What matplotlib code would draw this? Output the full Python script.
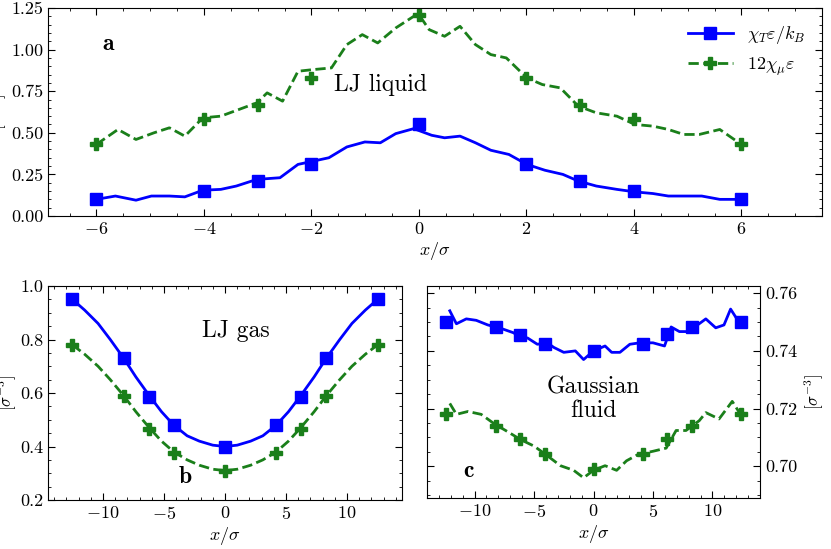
import numpy as np
import matplotlib
matplotlib.use("Agg")
import matplotlib.pyplot as plt
from matplotlib.ticker import AutoMinorLocator, MultipleLocator, FormatStrFormatter

plt.rcParams['font.family'] = ['cmr10', 'DejaVu Serif']
plt.rcParams['mathtext.fontset'] = 'cm'
plt.rcParams['axes.formatter.use_mathtext'] = True
plt.rcParams['font.size'] = 13

# Panel a (LJ liquid) -- positions read as pixels of the zoomed reference
a_green_px = [168,210,245,280,310,340,375,410,445,480,500,530,560,590,625,655,685,715,750,785,795,815,845,875,905,935,965,1005,1035,1070,1105,1140,1180,1215,1250,1280,1310,1340,1380,1422]
a_green_line = [0.43,0.52,0.46,0.50,0.53,0.48,0.59,0.60,0.64,0.68,0.74,0.69,0.87,0.88,0.89,1.03,1.09,1.04,1.13,1.20,1.21,1.12,1.08,1.14,1.03,0.97,0.95,0.83,0.79,0.77,0.66,0.62,0.60,0.55,0.54,0.52,0.49,0.49,0.52,0.43]
a_blue_px = [168,205,245,275,310,340,375,410,440,480,525,560,620,655,690,720,750,785,820,845,875,905,935,970,1005,1040,1075,1105,1140,1180,1215,1250,1280,1310,1345,1380,1422]
a_blue_line = [0.10,0.12,0.095,0.12,0.12,0.115,0.155,0.16,0.18,0.22,0.23,0.31,0.35,0.415,0.445,0.44,0.495,0.525,0.485,0.47,0.48,0.44,0.395,0.37,0.31,0.275,0.25,0.21,0.18,0.16,0.145,0.135,0.12,0.12,0.12,0.10,0.10]
xa_green = [(p - 795) / 104.5 for p in a_green_px]
xa_blue = [(p - 795) / 104.5 for p in a_blue_px]
xa_mark = [-6,-4,-3,-2,0,2,3,4,6]
a_blue_mark = [0.10,0.15,0.21,0.31,0.55,0.31,0.21,0.15,0.10]
a_green_mark = [0.43,0.58,0.67,0.83,1.21,0.83,0.67,0.58,0.43]

# Panel b (LJ gas)
xb_line = [-12.5,-11.5,-10.4,-9.4,-8.3,-7.3,-6.2,-5.2,-4.2,-3.1,-2.1,-1.0,0,1.0,2.1,3.1,4.2,5.2,6.2,7.3,8.3,9.4,10.4,11.5,12.5]
b_blue_line = [0.95,0.91,0.86,0.80,0.73,0.66,0.59,0.53,0.48,0.44,0.42,0.405,0.40,0.405,0.42,0.44,0.48,0.53,0.59,0.66,0.73,0.80,0.86,0.91,0.95]
b_green_line = [0.78,0.745,0.70,0.65,0.59,0.53,0.47,0.42,0.38,0.35,0.33,0.315,0.31,0.315,0.33,0.35,0.38,0.42,0.47,0.53,0.59,0.65,0.70,0.745,0.78]
xb_mark = [-12.5,-8.3,-6.2,-4.2,0,4.2,6.2,8.3,12.5]
b_blue_mark = [0.95,0.73,0.585,0.48,0.40,0.48,0.585,0.73,0.95]
b_green_mark = [0.78,0.59,0.465,0.375,0.31,0.375,0.465,0.59,0.78]

# Panel c (Gaussian fluid)
c_blue_px = [85,105,135,165,200,240,280,295,320,350,380,400,430,465,490,520,555,575,600,630,660,700,735,755,780,810,835,860,890,915,935,960]
c_blue_line = [0.7539,0.7494,0.7511,0.7506,0.749,0.7478,0.7462,0.744,0.7445,0.7423,0.7428,0.7412,0.7395,0.740,0.737,0.740,0.7417,0.7395,0.7395,0.7423,0.7428,0.7428,0.7417,0.7483,0.7467,0.7467,0.749,0.7511,0.748,0.749,0.7545,0.750]
c_green_px = [85,105,140,180,220,260,300,340,375,420,460,490,520,555,590,620,655,700,740,770,800,840,860,900,940,965]
c_green_line = [0.7218,0.718,0.719,0.718,0.7147,0.712,0.7092,0.707,0.7041,0.7002,0.6986,0.696,0.6986,0.7002,0.6986,0.7019,0.7041,0.7052,0.7063,0.7124,0.7124,0.7158,0.7186,0.7164,0.7225,0.718]
xc_blue = [(p - 520) / 36 for p in c_blue_px]
xc_green = [(p - 520) / 36 for p in c_green_px]
xc_mark = [-12.4,-8.2,-6.2,-4.1,0,4.2,6.2,8.3,12.4]
c_blue_mark = [0.750,0.7483,0.7456,0.7425,0.7399,0.7423,0.7458,0.7483,0.750]
c_green_mark = [0.7182,0.7141,0.7093,0.7041,0.6991,0.7041,0.7093,0.7141,0.7182]

BLUE = '#0000ff'
GREEN = '#1a7f1a'

fig = plt.figure(figsize=(8.31, 5.49), dpi=100)
axa = fig.add_axes([48/831, 1-216/549, 774/831, 208/549])
axb = fig.add_axes([48/831, 1-500/549, 354/831, 214/549])
axc = fig.add_axes([427/831, 1-498/549, 333/831, 212/549])

def style(ax):
    ax.tick_params(which='both', direction='in', top=True, right=True, labelsize=13)
    ax.tick_params(which='major', length=5)
    ax.tick_params(which='minor', length=2.5)
    ax.xaxis.set_minor_locator(AutoMinorLocator())
    ax.yaxis.set_minor_locator(AutoMinorLocator())

def draw(ax, xbl, ybl, xgl, ygl, xm, ybm, ygm, ms=9):
    ax.plot(xbl, ybl, '-', color=BLUE, lw=2)
    ax.plot(xgl, ygl, '--', color=GREEN, lw=2)
    ax.plot(xm, ybm, 's', color=BLUE, ms=ms, ls='none')
    ax.plot(xm, ygm, 'P', color=GREEN, ms=ms, ls='none')

BOLD = ['cmb10', 'DejaVu Serif']

draw(axa, xa_blue, a_blue_line, xa_green, a_green_line, xa_mark, a_blue_mark, a_green_mark)
axa.plot([], [], '-s', color=BLUE, lw=2, ms=9, label=r'$\chi_T\varepsilon/k_B$')
axa.plot([], [], '--P', color=GREEN, lw=2, ms=9, label=r'$12\chi_\mu\varepsilon$')
axa.legend(loc='upper right', frameon=False, fontsize=13, handlelength=2.5)
axa.set_xlim(-6.9, 7.5)
axa.set_ylim(0, 1.25)
axa.yaxis.set_major_locator(MultipleLocator(0.25))
axa.yaxis.set_major_formatter(FormatStrFormatter('%.2f'))
axa.set_xlabel(r'$x/\sigma$', labelpad=2)
axa.set_ylabel(r'$[\sigma^{-3}]$', labelpad=1, fontsize=12)
axa.text(0.07, 0.8, 'a', transform=axa.transAxes, fontsize=17, family=BOLD)
axa.text(0.43, 0.6, 'LJ liquid', transform=axa.transAxes, fontsize=17, ha='center')
style(axa)

draw(axb, xb_line, b_blue_line, xb_line, b_green_line, xb_mark, b_blue_mark, b_green_mark)
axb.set_xlim(-14.5, 14.5)
axb.set_ylim(0.2, 1.0)
axb.yaxis.set_major_locator(MultipleLocator(0.2))
axb.yaxis.set_major_formatter(FormatStrFormatter('%.1f'))
axb.set_xlabel(r'$x/\sigma$', labelpad=2)
axb.set_ylabel(r'$[\sigma^{-3}]$', labelpad=1, fontsize=12)
axb.text(0.37, 0.08, 'b', transform=axb.transAxes, fontsize=17, family=BOLD)
axb.text(0.53, 0.76, 'LJ gas', transform=axb.transAxes, fontsize=17, ha='center')
style(axb)

draw(axc, xc_blue, c_blue_line, xc_green, c_green_line, xc_mark, c_blue_mark, c_green_mark)
axc.set_xlim(-14, 14)
axc.set_ylim(0.689, 0.7625)
axc.yaxis.set_major_locator(MultipleLocator(0.02))
axc.yaxis.set_major_formatter(FormatStrFormatter('%.2f'))
axc.yaxis.tick_right()
axc.yaxis.set_label_position('right')
axc.set_xlabel(r'$x/\sigma$', labelpad=2)
axc.set_ylabel(r'$[\sigma^{-3}]$', labelpad=4, fontsize=12)
axc.text(0.11, 0.1, 'c', transform=axc.transAxes, fontsize=17, family=BOLD)
axc.text(0.5, 0.38, 'Gaussian\nfluid', transform=axc.transAxes, fontsize=17, ha='center', linespacing=1.1)
style(axc)
axc.tick_params(which='both', left=True, labelleft=False, labelright=True)

fig.savefig('out.png', dpi=100)
